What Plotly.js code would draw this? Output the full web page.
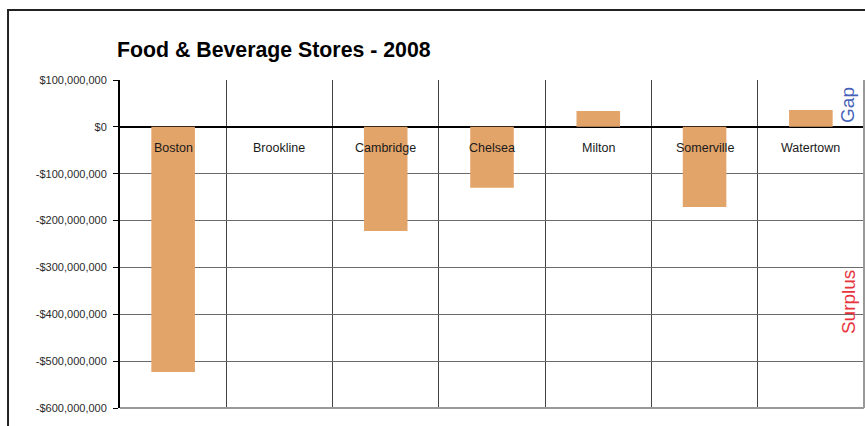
<!DOCTYPE html>
<html>
<head>
<meta charset="utf-8">
<script src="https://cdn.plot.ly/plotly-3.0.1.min.js"></script>
<style>
html,body{margin:0;padding:0;background:#fff;}
#chart{width:865px;height:426px;}
</style>
</head>
<body>
<div id="chart"></div>
<script>
const categories = ["Boston", "Brookline", "Cambridge", "Chelsea", "Milton", "Somerville", "Watertown"];
const values = [-523000000, 0, -222000000, -130000000, 34000000, -171000000, 36000000];
const tickValues = [100000000, 0, -100000000, -200000000, -300000000, -400000000, -500000000, -600000000];
const tickLabels = ["$100,000,000", "$0", "-$100,000,000", "-$200,000,000", "-$300,000,000", "-$400,000,000", "-$500,000,000", "-$600,000,000"];
const chartTitle = "Food & Beverage Stores - 2008";
const gapLabel = "Gap";
const surplusLabel = "Surplus";

const font = "Liberation Sans, Arial, sans-serif";

const trace = {
  type: "bar",
  x: categories,
  y: values,
  marker: {color: "#E3A46A", line: {width: 0}},
  hoverinfo: "x+y"
};

const annotations = categories.map(c => ({
  x: c, y: 0, xref: "x", yref: "y",
  text: c, showarrow: false,
  yanchor: "middle", xanchor: "center", yshift: -21,
  font: {family: font, size: 12.5, color: "#1a1a1a"}
}));
annotations.push({
  x: 0.9785, y: 0.924, xref: "paper", yref: "paper",
  text: gapLabel, showarrow: false, textangle: -90,
  xanchor: "center", yanchor: "middle",
  font: {family: font, size: 19, color: "#4662B8"}
});
annotations.push({
  x: 0.9785, y: 0.323, xref: "paper", yref: "paper",
  text: surplusLabel, showarrow: false, textangle: -90,
  xanchor: "center", yanchor: "middle",
  font: {family: font, size: 19, color: "#E8333D"}
});

const layout = {
  width: 865, height: 426,
  margin: {l: 120, r: 1, t: 80, b: 18, pad: 0},
  paper_bgcolor: "#fff", plot_bgcolor: "#fff",
  showlegend: false,
  bargap: 0.59,
  title: {
    text: "<b>" + chartTitle + "</b>",
    xref: "container", yref: "container",
    x: 117/865, xanchor: "left",
    y: 1 - 50/426, yanchor: "middle",
    font: {family: font, size: 21.3, color: "#000"}
  },
  xaxis: {
    type: "category",
    tickson: "boundaries",
    showgrid: true, gridcolor: "#444", gridwidth: 1,
    showticklabels: false, ticks: "",
    showline: false, zeroline: false,
    fixedrange: true
  },
  yaxis: {
    range: [-600000000, 100000000],
    tickvals: tickValues, ticktext: tickLabels,
    tickfont: {family: font, size: 11, color: "#2a2a2a"},
    ticks: "outside", ticklen: 5, tickcolor: "#000", tickwidth: 1,
    ticklabelstandoff: 4,
    showline: true, linecolor: "#000", linewidth: 2,
    showgrid: true, gridcolor: "#6a6a6a", gridwidth: 1,
    zeroline: true, zerolinecolor: "#000", zerolinewidth: 1.5,
    fixedrange: true
  },
  annotations: annotations,
  shapes: [{
    type: "rect", xref: "paper", yref: "paper",
    x0: -0.1505, x1: 1.05, y0: -0.3, y1: 1.2134,
    line: {color: "#222", width: 2}, fillcolor: "rgba(0,0,0,0)"
  }, {
    type: "line", xref: "paper", yref: "paper",
    x0: 0, x1: 1, y0: 0, y1: 0,
    line: {color: "#999", width: 2}
  }, {
    type: "line", xref: "paper", yref: "paper",
    x0: 1, x1: 1, y0: 0, y1: 1,
    line: {color: "#999", width: 2}
  }]
};

Plotly.newPlot("chart", [trace], layout, {displayModeBar: false, staticPlot: true});
</script>
</body>
</html>
